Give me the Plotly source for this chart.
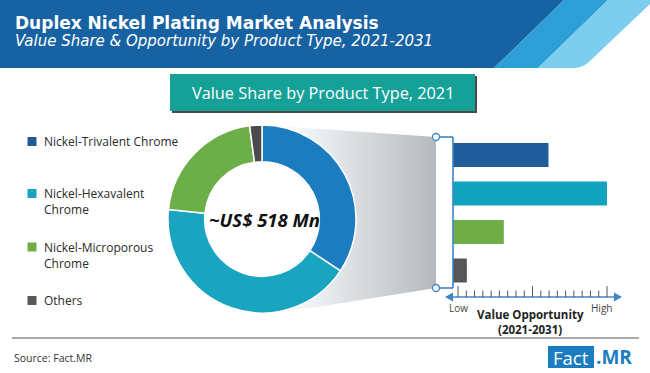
import plotly.graph_objects as go

# ---------------- data ----------------
categories = ["Nickel-Trivalent Chrome", "Nickel-Hexavalent Chrome",
              "Nickel-Microporous Chrome", "Others"]
legend_labels = ["Nickel-Trivalent Chrome", "Nickel-Hexavalent<br>Chrome",
                 "Nickel-Microporous<br>Chrome", "Others"]
share_2021 = [34.3, 42.3, 21.3, 2.1]          # value share, %
opportunity = [62, 100, 33, 9]                 # relative value opportunity (Low..High)
donut_colors = ["#1b7dc0", "#19a5c0", "#6cae47", "#4a4a4c"]
bar_colors = ["#1f5c99", "#10a3bd", "#70ad47", "#565656"]
legend_colors = ["#1f5a94", "#16a3bc", "#6fad47", "#595959"]
center_text = "~US$ 518 Mn"
W, H = 650, 373

fig = go.Figure()

def px_y(y):
    return 1 - y / H

# pixel overlay axes (x3/y3) for decorations
fig.update_layout(
    xaxis3=dict(domain=[0, 1], range=[0, W], visible=False, fixedrange=True, anchor="y3"),
    yaxis3=dict(domain=[0, 1], range=[H, 0], visible=False, fixedrange=True, anchor="x3"),
)

# gradient trapezoid linking donut to bars
fig.add_trace(go.Scatter(
    x=[262, 436, 436, 317, 262, 262], y=[125, 137, 288, 307, 313, 125],
    xaxis="x3", yaxis="y3", mode="lines", line=dict(width=0),
    fill="toself",
    fillgradient=dict(type="horizontal",
                      colorscale=[[0, "rgba(255,255,255,1)"], [0.3, "#eef1f3"], [1, "#b5b9bd"]]),
    hoverinfo="skip", showlegend=False))

# donut
fig.add_trace(go.Pie(
    labels=categories, values=share_2021, hole=0.61, sort=False,
    direction="clockwise", rotation=0, textinfo="none",
    marker=dict(colors=donut_colors, line=dict(color="white", width=1.5)),
    domain=dict(x=[168 / W, 356 / W], y=[px_y(313), px_y(125)]),
    showlegend=False, hoverinfo="label+percent"))

# bars
fig.add_trace(go.Bar(
    x=opportunity, y=categories, orientation="h", width=0.62,
    marker=dict(color=bar_colors, line=dict(width=0)),
    xaxis="x2", yaxis="y2", showlegend=False, hoverinfo="x+y"))

fig.update_layout(
    xaxis2=dict(domain=[453 / W, 607 / W], range=[0, 100], visible=False,
                fixedrange=True, anchor="y2"),
    yaxis2=dict(domain=[px_y(289.75), px_y(135.75)], categoryorder="array",
                categoryarray=categories, autorange="reversed", visible=False,
                fixedrange=True, anchor="x2"),
)

shapes = []
def rect(x0, y0, x1, y1, color, layer="below"):
    shapes.append(dict(type="rect", xref="x3", yref="y3", x0=x0, y0=y0, x1=x1, y1=y1,
                       fillcolor=color, line=dict(width=0), layer=layer))
def path(p, color, layer="below"):
    shapes.append(dict(type="path", xref="x3", yref="y3", path=p,
                       fillcolor=color, line=dict(width=0), layer=layer))
def line(x0, y0, x1, y1, color, w=1, layer="above"):
    shapes.append(dict(type="line", xref="x3", yref="y3", x0=x0, y0=y0, x1=x1, y1=y1,
                       line=dict(color=color, width=w), layer=layer))

# header band with stripes
path("M0,0 L564,0 L494,68 L0,68 Z", "#1762a3")
path("M564,0 L608,0 L538,68 L494,68 Z", "#2c9fd6")
path("M608,0 L650,0 L650,4 L590,61 Q583,68 574,68 L538,68 Z", "#7dcdef")

# title box with shadow
rect(172, 76, 477, 113, "#4a4a4a")
rect(170, 74, 475, 111, "#15a198")

# white disc inside donut hole
shapes.append(dict(type="circle", xref="x3", yref="y3", x0=262 - 56, y0=219 - 56,
                   x1=262 + 56, y1=219 + 56, fillcolor="white", line=dict(width=0),
                   layer="above"))

# connector line + circles
blue = "#3d85c6"
line(453, 137, 453, 288, blue, 1.6)
line(436, 137, 453, 137, blue, 1.6)
line(436, 288, 453, 288, blue, 1.6)
for cy in (137, 288):
    shapes.append(dict(type="circle", xref="x3", yref="y3", x0=432.5, y0=cy - 3.5,
                       x1=439.5, y1=cy + 3.5, fillcolor="white",
                       line=dict(color=blue, width=1.3), layer="above"))

# opportunity scale
axis_blue = "#3f86c8"
line(450, 297, 617, 297, axis_blue, 1.5)
path("M445,297 L453,292.5 L453,301.5 Z", axis_blue, "above")
path("M622,297 L614,292.5 L614,301.5 Z", axis_blue, "above")
n_ticks = 19
for i in range(n_ticks):
    tx = 458 + i * (607 - 458) / (n_ticks - 1)
    top = 286 if i in (0, 9, 18) else 290.5
    line(tx, top, tx, 297, "#555555", 1)

# legend markers
legend_y = [141.5, 193.5, 247, 300.5]
for c, yy in zip(legend_colors, legend_y):
    rect(27.5, yy - 4.5, 36.5, yy + 4.5, c, "above")

# bottom rule
line(12, 338, 639, 338, "#555555", 1.2)

# Fact.MR logo box
rect(548, 346, 594, 368, "#1b7dc0", "above")

fig.update_layout(shapes=shapes)

ann = []
def text(x, y, s, size, color, family="Open Sans", xanchor="left", yanchor="middle"):
    ann.append(dict(x=x, y=y, xref="x3", yref="y3", text=s, showarrow=False,
                    xanchor=xanchor, yanchor=yanchor,
                    font=dict(size=size, color=color, family=family)))

text(13, 23, "<b>Duplex Nickel Plating Market Analysis</b>", 17, "white", "DejaVu Sans")
text(13, 40.5, "<i>Value Share &amp; Opportunity by Product Type, 2021-2031</i>", 15, "white", "DejaVu Sans")
text(322.5, 92.5, "Value Share by Product Type, 2021", 16.3, "white", xanchor="center")
text(264, 219, "<b><i>" + center_text + "</i></b>", 18.5, "#111111", "Open Sans", xanchor="center")

legend_text_y = [141, 201, 255, 300.5]
for lbl, yy in zip(legend_labels, legend_text_y):
    ann.append(dict(x=42, y=yy, xref="x3", yref="y3", text=lbl, showarrow=False,
                    xanchor="left", yanchor="middle", align="left",
                    font=dict(size=12, color="#2a2a2a", family="Open Sans")))

text(458, 307.5, "Low", 10, "#444444", xanchor="center")
text(601, 307.5, "High", 10, "#444444", xanchor="center")
text(530, 314, "<b>Value Opportunity</b>", 11.5, "#222222", xanchor="center")
text(530, 329.5, "<b>(2021-2031)</b>", 11.5, "#222222", xanchor="center")
text(12, 357.5, "Source: Fact.MR", 10.5, "#333333")
text(571, 357, "Fact", 18.5, "white", xanchor="center")
text(594, 357, "<b>.MR</b>", 19, "#1b7dc0")

fig.update_layout(
    annotations=ann,
    width=W, height=H, margin=dict(l=0, r=0, t=0, b=0),
    paper_bgcolor="white", plot_bgcolor="rgba(0,0,0,0)",
    showlegend=False,
)

fig.write_html("out.html", config={"displayModeBar": False},
               post_script="document.body.style.margin='0';document.body.style.overflow='hidden';")
